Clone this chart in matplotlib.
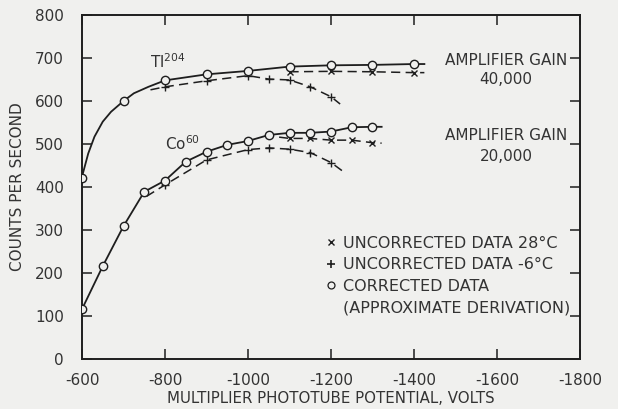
import matplotlib.pyplot as plt
from matplotlib.lines import Line2D

# Tl-204, amplifier gain 40,000
tl_corr_v = [-600, -700, -800, -900, -1000, -1100, -1200, -1300, -1400]
tl_corr_c = [422, 600, 648, 662, 670, 680, 683, 684, 686]
# smooth curve drawn through the corrected points
tl_curve_v = [-600, -615, -630, -650, -670, -700, -725, -760, -800, -900, -1000, -1100, -1200, -1300, -1400, -1425]
tl_curve_c = [424, 478, 517, 552, 575, 600, 618, 633, 648, 662, 670, 680, 683, 684, 686, 686]

tl_28_v = [-1100, -1200, -1300, -1400]
tl_28_c = [668, 669, 668, 666]
tl_28_line_v = [-1100, -1200, -1300, -1400, -1425]
tl_28_line_c = [668, 669, 668, 666, 666]

tl_m6_v = [-800, -900, -1000, -1050, -1100, -1150, -1200]
tl_m6_c = [633, 647, 659, 651, 649, 633, 610]
tl_m6_line_v = [-765, -800, -900, -1000, -1050, -1100, -1150, -1200, -1222]
tl_m6_line_c = [626, 633, 647, 659, 651, 649, 633, 610, 593]

# Co-60, amplifier gain 20,000
co_corr_v = [-600, -650, -700, -750, -800, -850, -900, -950, -1000, -1050, -1100, -1150, -1200, -1250, -1300]
co_corr_c = [116, 216, 309, 389, 415, 459, 482, 498, 507, 521, 526, 526, 529, 539, 540]
co_curve_v = co_corr_v + [-1322]
co_curve_c = co_corr_c + [540]

co_28_v = [-1100, -1150, -1200, -1250, -1300]
co_28_c = [513, 513, 509, 509, 503]
co_28_line_v = [-1075, -1100, -1150, -1200, -1250, -1300, -1322]
co_28_line_c = [516, 513, 513, 509, 509, 503, 502]

co_m6_v = [-800, -900, -1000, -1050, -1100, -1150, -1200]
co_m6_c = [405, 463, 487, 491, 488, 480, 457]
co_m6_line_v = [-755, -800, -900, -1000, -1050, -1100, -1150, -1200, -1228]
co_m6_line_c = [378, 405, 463, 487, 491, 488, 480, 457, 437]

xticks = [-600, -800, -1000, -1200, -1400, -1600, -1800]
xtick_labels = ["-600", "-800", "-1000", "-1200", "-1400", "-1600", "-1800"]
yticks = [0, 100, 200, 300, 400, 500, 600, 700, 800]

bg = '#f0f0ee'
ink = '#1e1e1e'
txt = '#333333'

plt.rcParams['font.family'] = ['DejaVu Sans']

fig = plt.figure(figsize=(6.18, 4.09), dpi=100, facecolor=bg)
ax = fig.add_axes([0.1327, 0.1222, 0.8058, 0.8411], facecolor=bg)

dash = (0, (6, 3.5))
# dashed (uncorrected) lines
ax.plot(tl_m6_line_v, tl_m6_line_c, color=ink, lw=1.1, ls=dash, zorder=2)
ax.plot(tl_28_line_v, tl_28_line_c, color=ink, lw=1.1, ls=dash, zorder=2)
ax.plot(co_m6_line_v, co_m6_line_c, color=ink, lw=1.1, ls=dash, zorder=2)
ax.plot(co_28_line_v, co_28_line_c, color=ink, lw=1.1, ls=dash, zorder=2)
# solid corrected curves
ax.plot(tl_curve_v, tl_curve_c, color=ink, lw=1.3, zorder=3)
ax.plot(co_curve_v, co_curve_c, color=ink, lw=1.3, zorder=3)

# markers
for v, c in [(tl_m6_v, tl_m6_c), (co_m6_v, co_m6_c)]:
    ax.plot(v, c, ls='none', marker='+', ms=6, mew=1.0, color=ink, zorder=4)
for v, c in [(tl_28_v, tl_28_c), (co_28_v, co_28_c)]:
    ax.plot(v, c, ls='none', marker='x', ms=4.5, mew=1.0, color=ink, zorder=4)
for v, c in [(tl_corr_v, tl_corr_c), (co_corr_v, co_corr_c)]:
    ax.plot(v, c, ls='none', marker='o', ms=6, mew=1.0, mfc=bg, mec=ink, zorder=5)

ax.set_xlim(-600, -1800)
ax.set_ylim(0, 800)
ax.set_xticks(xticks)
ax.set_xticklabels(xtick_labels)
ax.set_yticks(yticks)

for s in ax.spines.values():
    s.set_linewidth(1.4)
    s.set_color(ink)
ax.tick_params(direction='in', length=7, width=1.1, color=ink,
               top=True, right=True, labelsize=11, labelcolor=txt)
ax.tick_params(axis='x', pad=10)
ax.tick_params(axis='y', pad=13)

ax.set_xlabel("MULTIPLIER PHOTOTUBE POTENTIAL, VOLTS", fontsize=10.8, color=txt, labelpad=2)
ax.set_ylabel("COUNTS PER SECOND", fontsize=11, color=txt, labelpad=7)

ax.text(-764, 677, r"Tl$^{204}$", fontsize=11, color=txt, ha='left', va='baseline')
ax.text(-800, 486, r"Co$^{60}$", fontsize=11, color=txt, ha='left', va='baseline')

ax.text(-1769, 695, "AMPLIFIER GAIN", fontsize=11, color=txt, ha='right', va='center')
ax.text(-1622, 649, "40,000", fontsize=11, color=txt, ha='center', va='center')
ax.text(-1769, 519, "AMPLIFIER GAIN", fontsize=11, color=txt, ha='right', va='center')
ax.text(-1622, 470, "20,000", fontsize=11, color=txt, ha='center', va='center')

handles = [
    Line2D([], [], ls='none', marker='x', ms=4, mew=1.0, color=ink),
    Line2D([], [], ls='none', marker='+', ms=6, mew=1.2, color=ink),
    Line2D([], [], ls='none', marker='o', ms=5, mew=0.9, mfc=bg, mec=ink),
    Line2D([], [], ls='none'),
]
labels = ["UNCORRECTED DATA 28°C", "UNCORRECTED DATA -6°C",
          "CORRECTED DATA", "(APPROXIMATE DERIVATION)"]
leg = ax.legend(handles, labels, loc='upper left', bbox_to_anchor=(0.49, 0.358),
                frameon=False, fontsize=11.5, handlelength=0.6, handletextpad=0.45,
                labelspacing=0.4, borderaxespad=0, borderpad=0)
for t in leg.get_texts():
    t.set_color(txt)

fig.savefig('out.png', dpi=100, facecolor=bg)
